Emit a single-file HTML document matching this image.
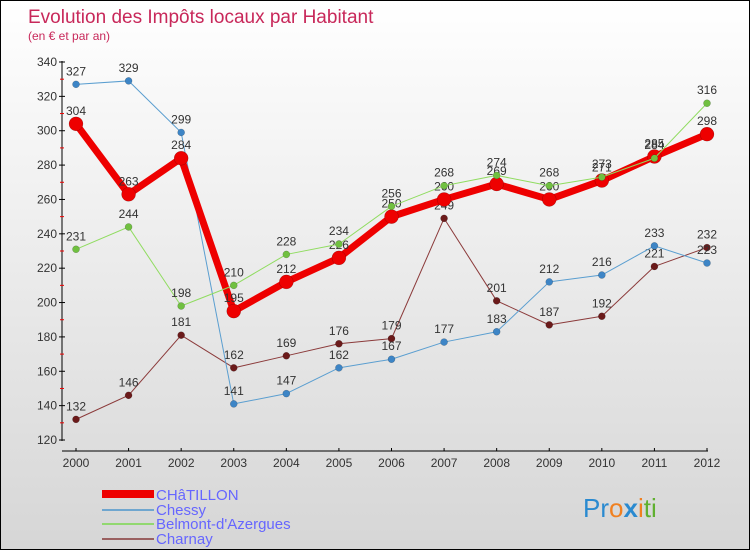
<!DOCTYPE html>
<html><head><meta charset="utf-8"><style>
body{margin:0}
#c{width:750px;height:550px;position:relative;background:linear-gradient(#ffffff,#d6d6d6);box-sizing:border-box;border:1px solid #000;overflow:hidden;font-family:"Liberation Sans",sans-serif}
svg text{font-family:"Liberation Sans",sans-serif}
</style></head><body>
<div id="c">
<svg id="s" width="750" height="550">
<text x="27" y="22" font-size="19" fill="#c8285a">Evolution des Impôts locaux par Habitant</text>
<text x="27" y="39" font-size="12" fill="#c8285a">(en € et par an)</text>
<g id="axes"></g><g id="series"></g>
<g>
<rect x="101" y="489" width="52" height="8" fill="#e00"/>
<text x="155" y="499" font-size="15" fill="#6666ff">CHâTILLON</text>
<rect x="101" y="508" width="52" height="2" fill="#6fa6cf"/>
<text x="155" y="514" font-size="15" fill="#6666ff">Chessy</text>
<rect x="101" y="522" width="52" height="2" fill="#92d870"/>
<text x="155" y="528" font-size="15" fill="#6666ff">Belmont-d'Azergues</text>
<rect x="101" y="537" width="52" height="2" fill="#9a6060"/>
<text x="155" y="543" font-size="15" fill="#6666ff">Charnay</text>
</g>
<text x="582" y="516" font-size="26" font-family="Liberation Sans"><tspan fill="#2a8ad0">Pr</tspan><tspan fill="#f08020">o</tspan><tspan fill="#2a8ad0" font-weight="bold">x</tspan><tspan fill="#f08020">i</tspan><tspan fill="#60b030">ti</tspan></text>
</svg></div>
<script>
const years=[2000,2001,2002,2003,2004,2005,2006,2007,2008,2009,2010,2011,2012];
const chatillon=[304,263,284,195,212,226,250,260,269,260,271,285,298];
const chessy=[327,329,299,141,147,162,167,177,183,212,216,233,223];
const belmont=[231,244,198,210,228,234,256,268,274,268,273,284,316];
const charnay=[132,146,181,162,169,176,179,249,201,187,192,221,232];
const yTicks=[120,140,160,180,200,220,240,260,280,300,320,340];
const NS="http://www.w3.org/2000/svg";
const X=i=>75+i*(706-75)/(years.length-1);
const Y=v=>439-(v-120)*(439-61)/220;
function mk(t,a,p){const e=document.createElementNS(NS,t);for(const k in a)e.setAttribute(k,a[k]);p.appendChild(e);return e;}
const ax=document.getElementById('axes');
const yl=mk('line',{x1:61,y1:60,x2:61,y2:440,stroke:'#000'},ax);


const xl=mk('line',{x1:61,y1:450,x2:707,y2:450,stroke:'#000'},ax);


yTicks.forEach(v=>{
 mk('line',{x1:58,y1:Y(v),x2:64,y2:Y(v),stroke:'#000'},ax);
 if(v<340){mk('line',{x1:59,y1:Y(v+10),x2:63,y2:Y(v+10),stroke:'#e00'},ax);}
 const t=mk('text',{x:56,y:Y(v)+4,'font-size':12,fill:'#333','text-anchor':'end'},ax);t.textContent=v;
 
 
});
years.forEach((yr,i)=>{
 mk('line',{x1:X(i),y1:447,x2:X(i),y2:450,stroke:'#000'},ax);
 const t=mk('text',{x:X(i),y:466,'font-size':12,fill:'#333','text-anchor':'middle'},ax);t.textContent=yr;
 
 
});
const sg=document.getElementById('series');
function draw(name,data,color,w,r,mcol){
 const g=mk('g',{},sg);
 
 
 const pts=data.map((v,i)=>X(i)+','+Y(v)).join(' ');
 mk('polyline',{points:pts,fill:'none',stroke:color,'stroke-width':w,'stroke-linejoin':'round'},g);
 data.forEach((v,i)=>{
  const c=mk('circle',{cx:X(i),cy:Y(v),r:r,fill:mcol,stroke:'rgba(0,0,0,0.3)','stroke-width':0.5},g);
  
  
  const t=mk('text',{x:X(i),y:Y(v)-9,'font-size':12,fill:'#333','text-anchor':'middle'},g);t.textContent=v;
  
  
 });
}
draw('charnay',charnay,'#8b3a3a',1,3.5,'#6b1a1a');
draw('chessy',chessy,'#5a9ed0',1,3.5,'#3d85c6');
draw('chatillon',chatillon,'#ee0000',7,7,'#ee0000');
draw('belmont',belmont,'#90dc60',1,3.5,'#70c040');
</script>
</body></html>
